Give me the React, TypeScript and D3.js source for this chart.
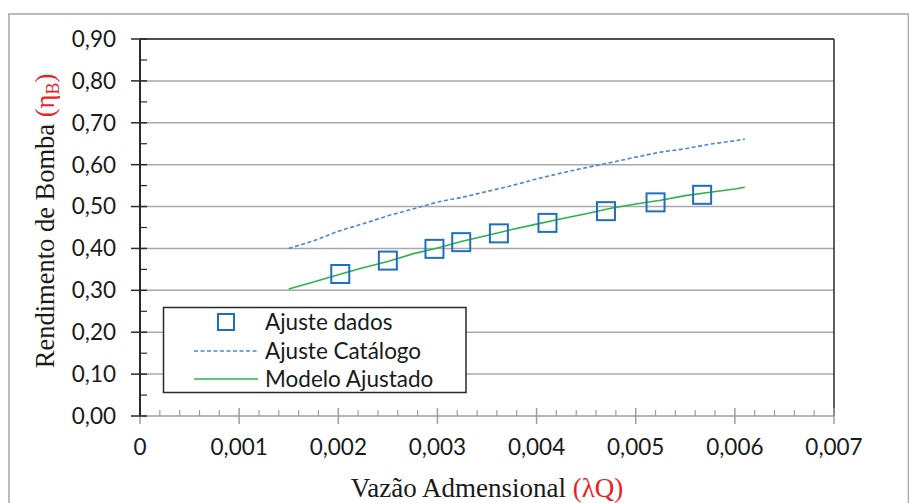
import React from "react";
import * as d3 from "d3";

// Dimensionless flow (λQ) axis ticks and pump efficiency (ηB) axis ticks
const flowTicks = [0, 0.001, 0.002, 0.003, 0.004, 0.005, 0.006, 0.007];
const effTicks = [0, 0.1, 0.2, 0.3, 0.4, 0.5, 0.6, 0.7, 0.8, 0.9];

// Measured points ("Ajuste dados")
const dataFlow = [0.00202, 0.0025, 0.00297, 0.00324, 0.00362, 0.00411, 0.0047, 0.0052, 0.00567];
const dataEff = [0.339, 0.371, 0.399, 0.415, 0.436, 0.461, 0.489, 0.51, 0.528];

// Flow values at which the two fitted curves are evaluated
const curveFlow = [
  0.0015, 0.00175, 0.002, 0.00225, 0.0025, 0.00275, 0.003, 0.00325, 0.0035, 0.00375,
  0.004, 0.00425, 0.0045, 0.00475, 0.005, 0.00525, 0.0055, 0.00575, 0.006, 0.0061,
];
// Catalogue fit ("Ajuste Catálogo")
const catalogEff = [
  0.4, 0.418, 0.441, 0.459, 0.478, 0.494, 0.511, 0.522, 0.536, 0.55,
  0.566, 0.58, 0.593, 0.605, 0.618, 0.63, 0.638, 0.649, 0.657, 0.661,
];
// Fitted model ("Modelo Ajustado")
const modelEff = [
  0.303, 0.32, 0.337, 0.354, 0.369, 0.387, 0.401, 0.417, 0.431, 0.445,
  0.458, 0.471, 0.483, 0.496, 0.506, 0.515, 0.526, 0.534, 0.542, 0.546,
];

const legendLabels = ["Ajuste dados", "Ajuste Catálogo", "Modelo Ajustado"];

const W = 909;
const H = 503;
const plot = { left: 140, right: 834, top: 39, bottom: 416 };

const ptLocale = d3.formatLocale({
  decimal: ",",
  thousands: ".",
  grouping: [3],
  currency: ["", ""],
});
const fmtY = ptLocale.format(".2f");
const fmtX = (v: number) => (v === 0 ? "0" : ptLocale.format(".3f")(v));

const SANS = "Lato, 'Open Sans', sans-serif";
const SERIF = "'Liberation Serif', 'DejaVu Serif', serif";
const LABEL_SIZE = 22.5;

const COL_DATA = "#1f6fbf";
const COL_CAT = "#5186cc";
const COL_MODEL = "#2db34d";
const COL_GRID = "#a9a9a9";
const COL_DARK = "#2a2a2a";

export default function App() {
  const x = d3.scaleLinear().domain([0, 0.007]).range([plot.left, plot.right]);
  const y = d3.scaleLinear().domain([0, 0.9]).range([plot.bottom, plot.top]);

  const line = d3
    .line<[number, number]>()
    .x((d) => x(d[0]))
    .y((d) => y(d[1]));

  const catalogPath = line(curveFlow.map((f, i) => [f, catalogEff[i]]));
  const modelPath = line(curveFlow.map((f, i) => [f, modelEff[i]]));

  const xMinor = d3
    .range(0, 0.00701, 0.0002)
    .filter((v) => Math.abs(v / 0.001 - Math.round(v / 0.001)) > 1e-6);
  const yMinor = d3.range(0.05, 0.9, 0.1);

  const sq = 18;
  const legend = { x: 163.5, y: 307.5, w: 302.5, h: 85 };
  const rowY = [322, 351, 379];

  return (
    <svg
      width={W}
      height={H}
      style={{ position: "absolute", left: 0, top: 0, background: "#fff" }}
    >
      {/* chart frame */}
      <rect x={9} y={14} width={899.5} height={520} fill="#fff" stroke="#a6a6a6" strokeWidth={1.5} />

      {/* horizontal gridlines */}
      {effTicks.slice(1).map((t) => (
        <line key={"g" + t} x1={plot.left} x2={plot.right} y1={y(t)} y2={y(t)} stroke={COL_GRID} strokeWidth={1.5} />
      ))}

      {/* plot border: top and right */}
      <line x1={plot.left} x2={plot.right} y1={y(0.9)} y2={y(0.9)} stroke={COL_DARK} strokeWidth={1.5} />
      <line x1={plot.right} x2={plot.right} y1={plot.top} y2={plot.bottom} stroke={COL_DARK} strokeWidth={1.5} />

      {/* x axis */}
      <line x1={plot.left} x2={plot.right} y1={plot.bottom} y2={plot.bottom} stroke="#9e9e9e" strokeWidth={1.5} />
      {flowTicks.map((t) => (
        <line key={"xt" + t} x1={x(t)} x2={x(t)} y1={plot.bottom - 8} y2={plot.bottom + 8} stroke="#9e9e9e" strokeWidth={1.5} />
      ))}
      {xMinor.map((t) => (
        <line key={"xm" + t} x1={x(t)} x2={x(t)} y1={plot.bottom - 6} y2={plot.bottom} stroke="#9e9e9e" strokeWidth={1.2} />
      ))}
      {flowTicks.map((t) => (
        <text key={"xl" + t} x={x(t)} y={455} textAnchor="middle" fontFamily={SANS} fontSize={LABEL_SIZE} fill="#1a1a1a">
          {fmtX(t)}
        </text>
      ))}

      {/* y axis */}
      <line x1={plot.left} x2={plot.left} y1={plot.top} y2={plot.bottom} stroke={COL_DARK} strokeWidth={2} />
      {effTicks.map((t) => (
        <line key={"yt" + t} x1={plot.left - 9} x2={plot.left + 7} y1={y(t)} y2={y(t)} stroke={COL_DARK} strokeWidth={1.5} />
      ))}
      {yMinor.map((t) => (
        <line key={"ym" + t} x1={plot.left} x2={plot.left + 7} y1={y(t)} y2={y(t)} stroke={COL_DARK} strokeWidth={1.2} />
      ))}
      {effTicks.map((t) => (
        <text key={"yl" + t} x={116} y={y(t)} dy="0.35em" textAnchor="end" fontFamily={SANS} fontSize={LABEL_SIZE} fill="#1a1a1a">
          {fmtY(t)}
        </text>
      ))}

      {/* series */}
      <path d={catalogPath ?? ""} fill="none" stroke={COL_CAT} strokeWidth={1.6} strokeDasharray="4,2.5" />
      <path d={modelPath ?? ""} fill="none" stroke={COL_MODEL} strokeWidth={1.6} />
      {dataFlow.map((f, i) => (
        <rect
          key={"p" + i}
          x={x(f) - sq / 2}
          y={y(dataEff[i]) - sq / 2}
          width={sq}
          height={sq}
          fill="none"
          stroke={COL_DATA}
          strokeWidth={2}
        />
      ))}

      {/* legend */}
      <rect x={legend.x} y={legend.y} width={legend.w} height={legend.h} fill="#fff" stroke={COL_DARK} strokeWidth={1.5} />
      <rect x={226 - 8} y={rowY[0] - 8} width={16} height={16} fill="none" stroke={COL_DATA} strokeWidth={2} />
      <line x1={194} x2={258} y1={rowY[1]} y2={rowY[1]} stroke={COL_CAT} strokeWidth={1.6} strokeDasharray="4,2.5" />
      <line x1={194} x2={258} y1={rowY[2]} y2={rowY[2]} stroke={COL_MODEL} strokeWidth={1.6} />
      {legendLabels.map((l, i) => (
        <text key={l} x={265} y={rowY[i]} dy="0.35em" fontFamily={SANS} fontSize={LABEL_SIZE} fill="#1a1a1a">
          {l}
        </text>
      ))}

      {/* axis titles */}
      <text x={(plot.left + plot.right) / 2} y={497} textAnchor="middle" fontFamily={SERIF} fontSize={27} fill="#1a1a1a">
        Vazão Admensional <tspan fill="#ee1c24">(λQ)</tspan>
      </text>
      <text
        transform={`translate(54, 221) rotate(-90)`}
        textAnchor="middle"
        fontFamily={SERIF}
        fontSize={26.5}
        fill="#1a1a1a"
      >
        Rendimento de Bomba{" "}
        <tspan fill="#ee1c24">
          (η
          <tspan fontSize={18} dy={5}>
            B
          </tspan>
          <tspan dy={-5}>)</tspan>
        </tspan>
      </text>
    </svg>
  );
}
